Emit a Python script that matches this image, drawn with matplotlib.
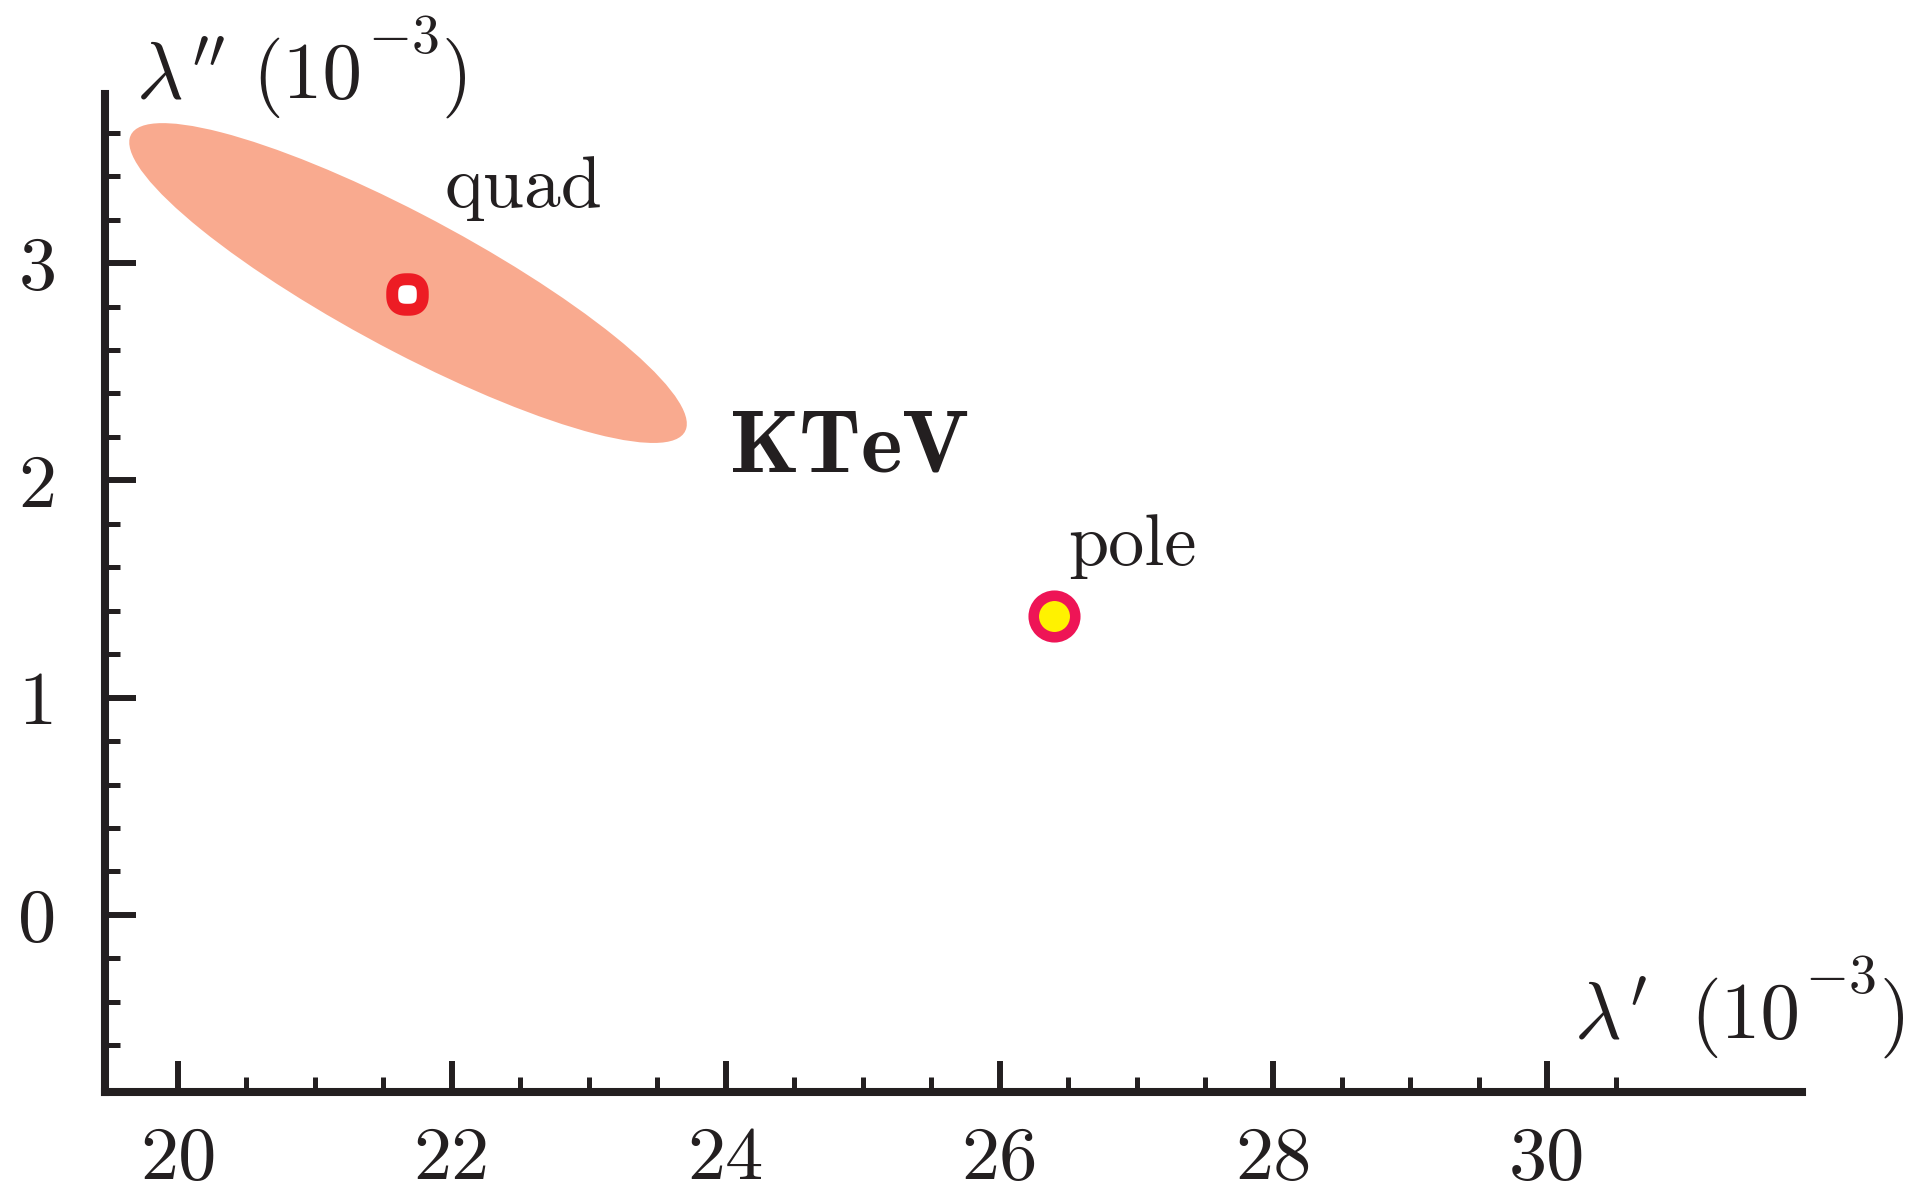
import numpy as np
import matplotlib
matplotlib.use("Agg")
import matplotlib.pyplot as plt
from matplotlib.patches import Ellipse
from matplotlib.path import Path

# KTeV fits (units of 1e-3): quadratic fit with its 1-sigma contour, pole fit
quad_point = [21.67, 2.856]
quad_center = [21.68, 2.908]
quad_sigma = [2.036, 0.736]
quad_rho = -0.88
pole_point = [26.40, 1.377]

x_major = [20, 22, 24, 26, 28, 30]
x_labels = ["20", "22", "24", "26", "28", "30"]
y_major = [0, 1, 2, 3]
y_labels = ["0", "1", "2", "3"]
x_minor = np.arange(20, 30.51, 0.5)
y_minor = np.arange(-0.6, 3.61, 0.2)

INK = "#231f20"
W, H = 1910, 1199


def fpos(x, y):
    # pixel position (from top-left) -> figure fraction
    return x / W, 1 - y / H


def axis_label(fig, x0, base, sym, xs):
    # symbol, "(10", raised "-3", ")" placed piece by piece like the original
    fig.text(*fpos(x0, base), sym, fontsize=58, color=INK, va="baseline")
    fig.text(*fpos(xs[0], base), "(10", fontsize=57, color=INK, va="baseline")
    fig.text(*fpos(xs[1], base - 45), r"$-3$", fontsize=40, color=INK, va="baseline")
    fig.text(*fpos(xs[2], base), ")", fontsize=57, color=INK, va="baseline")


plt.rcParams["mathtext.fontset"] = "cm"
plt.rcParams["font.family"] = "cmr10"
plt.rcParams["axes.formatter.use_mathtext"] = True

fig = plt.figure(figsize=(W / 100, H / 100), dpi=100)
ax = fig.add_axes([105 / W, 1 - 1092 / H, (1802 - 105) / W, (1092 - 94) / H])
ax.set_xlim(19.467, 31.86)
ax.set_ylim(-0.815, 3.778)

# 1-sigma contour from the covariance
sx, sy = quad_sigma
cov = np.array([[sx**2, quad_rho * sx * sy], [quad_rho * sx * sy, sy**2]])
vals, vecs = np.linalg.eigh(cov)
angle = np.degrees(np.arctan2(vecs[1, 1], vecs[0, 1]))
ax.add_patch(Ellipse(quad_center, 2 * np.sqrt(vals[1]), 2 * np.sqrt(vals[0]),
                     angle=angle, facecolor="#f9aa8f", edgecolor="none", zorder=1))

# slightly squared ring marker for the quad fit
t = np.linspace(0, 2 * np.pi, 73)
c, s = np.cos(t), np.sin(t)
squircle = Path(np.column_stack([np.sign(c) * np.abs(c) ** 0.75,
                                 np.sign(s) * np.abs(s) ** 0.75]), closed=True)

ax.plot(*quad_point, marker=squircle, ms=22, mew=8.6, mfc="white", mec="#ed1c24",
        linestyle="none", zorder=3)
ax.plot(*pole_point, marker="o", ms=29.9, mew=7.6, mfc="#fff200", mec="#ee1556",
        linestyle="none", zorder=3)

for side in ["top", "right"]:
    ax.spines[side].set_visible(False)
for side in ["left", "bottom"]:
    ax.spines[side].set_linewidth(5.8)
    ax.spines[side].set_color(INK)
    ax.spines[side].set_capstyle("projecting")

ax.set_xticks(x_major, labels=x_labels)
ax.set_yticks(y_major, labels=y_labels)
ax.set_xticks(x_minor, minor=True)
ax.set_yticks(y_minor, minor=True)
ax.tick_params(which="major", direction="in", length=22, width=4.3, color=INK,
               labelsize=55, labelcolor=INK)
ax.tick_params(which="minor", direction="in", length=11, width=3.6, color=INK)
ax.tick_params(axis="x", which="major", pad=25)
ax.tick_params(axis="y", which="major", pad=35)

fig.text(*fpos(444, 207), "quad", fontsize=53, color=INK, va="baseline")
fig.text(*fpos(1068, 565), "pole", fontsize=52, color=INK, va="baseline")
fig.text(*fpos(729, 472), r"$\mathbf{KTeV}$", fontsize=64, color=INK, va="baseline")

axis_label(fig, 136, 98, r"$\lambda^{\prime\prime}$", [252, 368, 442])
axis_label(fig, 1574, 1038, r"$\lambda^{\prime}$", [1690, 1805, 1880])

fig.savefig("out.png", dpi=100, facecolor="white")
